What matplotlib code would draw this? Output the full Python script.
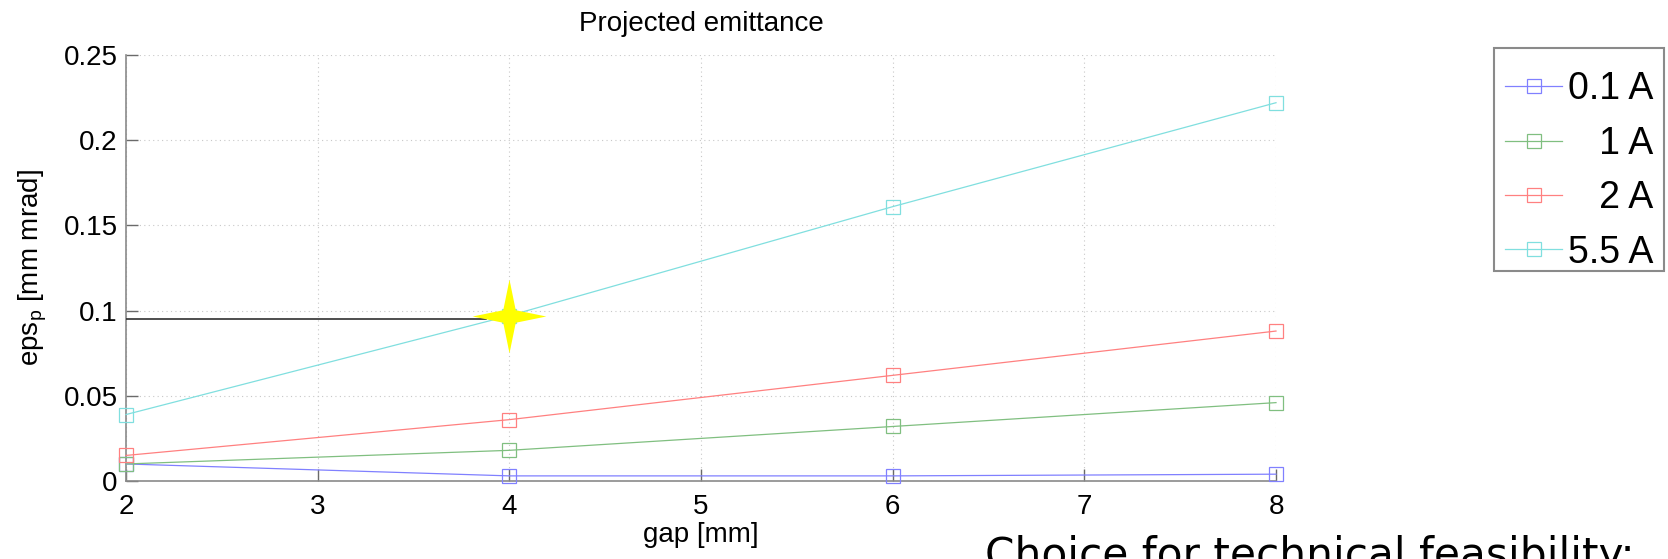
import matplotlib
matplotlib.use("Agg")
import matplotlib.pyplot as plt
from matplotlib.path import Path
from matplotlib.patches import Rectangle
from matplotlib.ticker import FixedLocator, FixedFormatter

# Emittance vs. gap for several beam currents
gap = [2, 4, 6, 8]
eps_01A = [0.010, 0.003, 0.003, 0.004]
eps_1A = [0.010, 0.018, 0.032, 0.046]
eps_2A = [0.015, 0.036, 0.062, 0.088]
eps_55A = [0.039, 0.097, 0.161, 0.222]

series_labels = ["0.1 A", "   1 A", "   2 A", "5.5 A"]
series_colors = ["#8080ff", "#80bf80", "#ff8080", "#80dfdf"]

x_ticks = [2, 3, 4, 5, 6, 7, 8]
y_ticks = [0, 0.05, 0.1, 0.15, 0.2, 0.25]
y_tick_labels = ["0", "0.05", "0.1", "0.15", "0.2", "0.25"]

chosen_gap = 4
chosen_eps = 0.097
reference_eps = 0.095
reference_x_end = 3.88

plt.rcParams["font.family"] = ["Liberation Sans", "DejaVu Sans"]
plt.rcParams["mathtext.default"] = "regular"

W, H = 1668, 559
fig = plt.figure(figsize=(W / 100, H / 100), dpi=100)
ax = fig.add_axes([126 / W, 1 - 481 / H, (1276 - 126) / W, (481 - 55) / H])

for vals, lab, col in zip([eps_01A, eps_1A, eps_2A, eps_55A], series_labels, series_colors):
    ax.plot(gap, vals, color=col, lw=0.9, marker="s", markersize=10,
            markerfacecolor="none", markeredgecolor=col, markeredgewidth=0.9,
            label=lab, clip_on=False, zorder=3)

# horizontal guide to the chosen operating point
ax.plot([gap[0], reference_x_end], [reference_eps, reference_eps],
        color="#303030", lw=1.2, zorder=4)

# four-pointed star marking the chosen point
r = 0.17
star = Path([(0, 1), (r, r), (1, 0), (r, -r), (0, -1), (-r, -r), (-1, 0), (-r, r), (0, 1)],
            [Path.MOVETO] + [Path.LINETO] * 7 + [Path.CLOSEPOLY])
ax.plot([chosen_gap], [chosen_eps], marker=star, markersize=53, color="#ffff00",
        markeredgewidth=0, linestyle="none", zorder=5)

ax.set_xlim(2, 8)
ax.set_ylim(0, 0.25)
ax.xaxis.set_major_locator(FixedLocator(x_ticks))
ax.yaxis.set_major_locator(FixedLocator(y_ticks))
ax.yaxis.set_major_formatter(FixedFormatter(y_tick_labels))

ax.grid(True, color="#c8c8c8", linestyle=(0, (1, 3)), linewidth=0.8)
ax.set_axisbelow(True)
for s in ["top", "right"]:
    ax.spines[s].set_visible(False)
for s in ["left", "bottom"]:
    ax.spines[s].set_color("#8a8a8a")
    ax.spines[s].set_linewidth(1.2)
ax.tick_params(direction="in", length=8.5, width=1.0, color="#6a6a6a",
               labelsize=20, labelcolor="black")
ax.tick_params(axis="x", pad=9)
ax.tick_params(axis="y", pad=6)

ax.set_title("Projected emittance", fontsize=20, pad=17)
ax.set_xlabel("gap [mm]", fontsize=20, va="baseline")
ax.xaxis.set_label_coords(0.5, -0.143)
ax.set_ylabel("eps$_p$ [mm mrad]", fontsize=20, va="center")
ax.yaxis.set_label_coords(-0.081, 0.5)

# legend entries without their own frame; the box is drawn separately
leg = fig.legend(loc="center left", bbox_to_anchor=(1505 / W, 1 - 171 / H),
                 bbox_transform=fig.transFigure, fontsize=27, frameon=False,
                 borderpad=0, handlelength=1.52, handletextpad=0.15,
                 labelspacing=0.49, borderaxespad=0)
fig.patches.append(Rectangle((1494 / W, 1 - 271 / H), (1664 - 1494) / W, (271 - 48) / H,
                             transform=fig.transFigure, fill=False,
                             edgecolor="#8a8a8a", linewidth=1.5))

fig.text(985 / W, -9 / H, "Choice for technical feasibility:",
         family="DejaVu Sans", fontsize=30.4, ha="left", va="baseline")

fig.savefig("out.png", dpi=100)
